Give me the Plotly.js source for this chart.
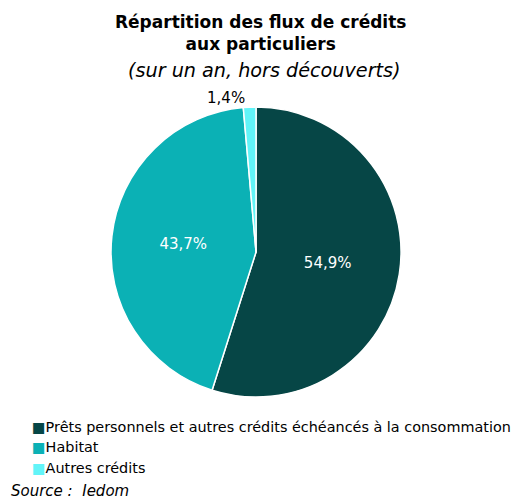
<!DOCTYPE html>
<html><head><meta charset="utf-8">
<script src="https://cdn.plot.ly/plotly-3.0.1.min.js"></script>
<style>html,body{margin:0;padding:0;background:#fff}</style>
</head><body>
<div id="chart" style="width:520px;height:499px"></div>
<script>
const categories = ["Prêts personnels et autres crédits échéancés à la consommation", "Habitat", "Autres crédits"];
const values = [54.9, 43.7, 1.4];
const colors = ["#064646", "#0BB1B5", "#62F4F8"];
const titleLine1 = "Répartition des flux de crédits";
const titleLine2 = "aux particuliers";
const subtitle = "(sur un an, hors découverts)";
const sourceText = "Source :  Iedom";

const trace = {
  type: "pie",
  labels: categories,
  values: values,
  sort: false,
  direction: "clockwise",
  rotation: 0,
  marker: {colors: colors, line: {color: "#ffffff", width: 1.5}},
  texttemplate: "%{value:.1f}%",
  textposition: ["inside", "inside", "outside"],
  insidetextorientation: "horizontal",
  textfont: {family: "DejaVu Sans", size: 15},
  insidetextfont: {color: "#ffffff", family: "DejaVu Sans", size: 15},
  outsidetextfont: {color: "#000000", family: "DejaVu Sans", size: 15},
  hoverinfo: "none",
  showlegend: false,
  domain: {x: [0.2135, 0.7712], y: [0.2044, 0.7856]}
};

const annotations = [
  {text: "<b>" + titleLine1 + "<br>" + titleLine2 + "</b>", x: 260/520, xanchor: "center", y: 1 - 10/499, yanchor: "top", xref: "paper", yref: "paper", showarrow: false, font: {size: 17, family: "DejaVu Sans", color: "#000"}},
  {text: "<i>" + subtitle + "</i>", x: 264/520, xanchor: "center", y: 1 - 57/499, yanchor: "top", xref: "paper", yref: "paper", showarrow: false, font: {size: 19.2, family: "DejaVu Sans", color: "#000"}},
  {text: "<i>" + sourceText + "</i>", x: 9/520, xanchor: "left", y: 1 - 480/499, yanchor: "top", xref: "paper", yref: "paper", showarrow: false, font: {size: 15, family: "DejaVu Sans", color: "#000"}}
];
// legend built from categories and colours
categories.forEach(function (c, i) {
  annotations.push({
    text: "<span style='color:" + colors[i] + "'>■</span>" + c,
    x: 30/520, xanchor: "left", y: 1 - (416.5 + i * 20.5)/499, yanchor: "top",
    xref: "paper", yref: "paper", showarrow: false,
    font: {size: 14.4, family: "DejaVu Sans", color: "#000"}
  });
});

const layout = {
  width: 520, height: 499,
  margin: {l: 0, r: 0, t: 0, b: 0},
  paper_bgcolor: "#ffffff",
  separators: ", ",
  font: {family: "DejaVu Sans", color: "#000000"},
  showlegend: false,
  annotations: annotations
};
Plotly.newPlot("chart", [trace], layout, {displayModeBar: false, staticPlot: true});
</script>
</body></html>
